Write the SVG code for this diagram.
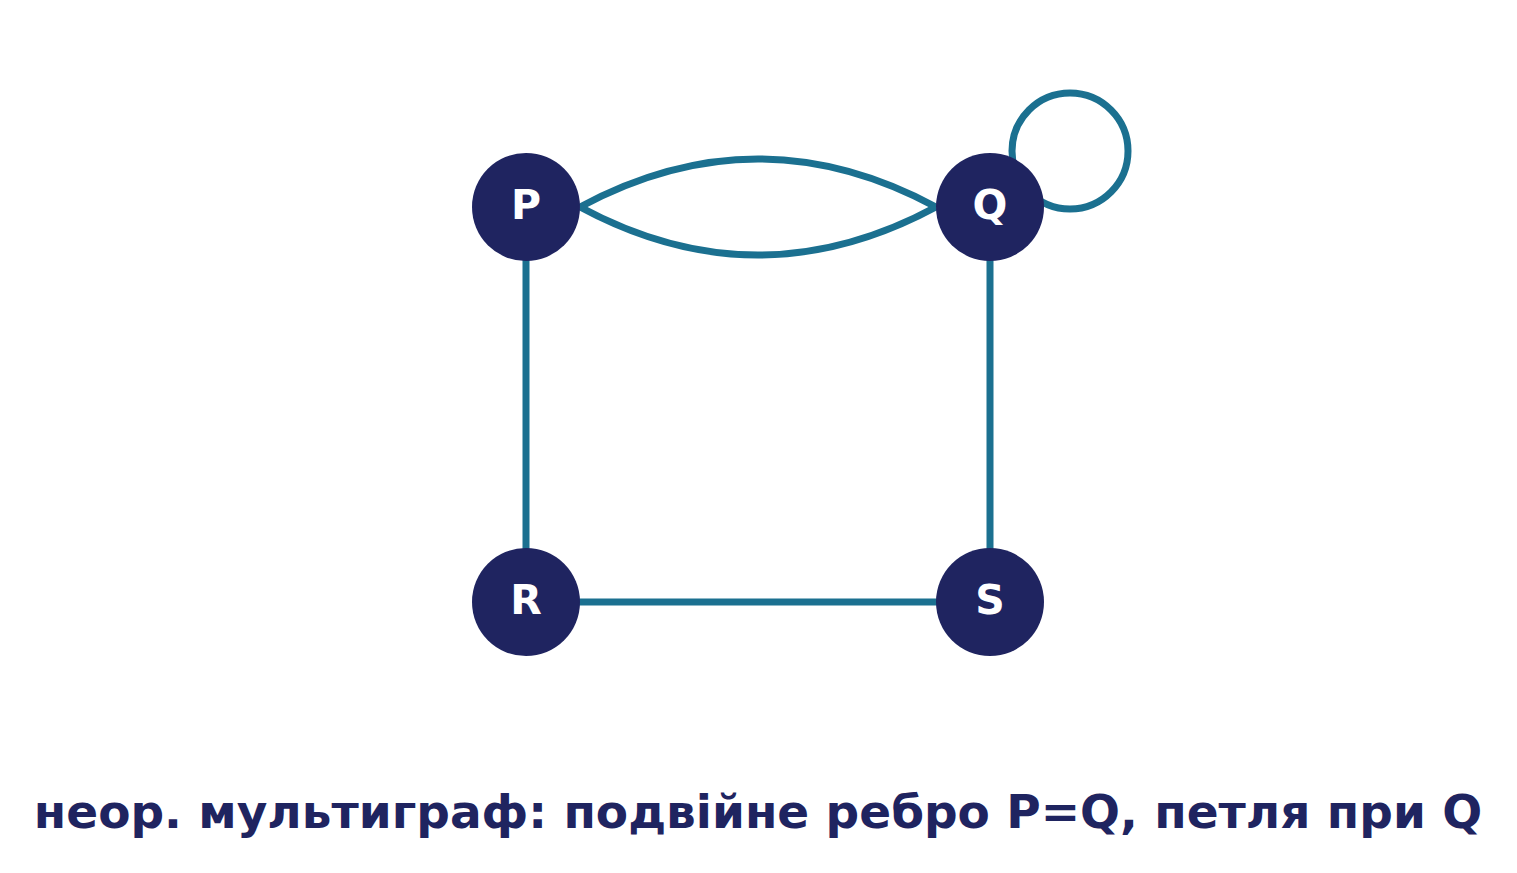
<svg xmlns="http://www.w3.org/2000/svg" width="1517" height="873" viewBox="0 0 1517 873">
<style>
.edge{fill:none;stroke:#1b7090;stroke-width:7}
.node circle{fill:#1f2460}
.node text{fill:#ffffff;font-family:"DejaVu Sans",sans-serif;font-weight:bold;font-size:41px;text-anchor:middle}
.cap{fill:#1f2460;font-family:"DejaVu Sans",sans-serif;font-weight:bold;font-size:47px;text-anchor:middle}
</style>
<rect width="1517" height="873" fill="#ffffff"/>
<g id="edges">
<path class="edge" d="M580,207 Q758,111 936,207"/>
<path class="edge" d="M580,207 Q758,303 936,207"/>
<line class="edge" x1="526" y1="207" x2="526" y2="602"/>
<line class="edge" x1="990" y1="207" x2="990" y2="602"/>
<line class="edge" x1="526" y1="602" x2="990" y2="602"/>
<circle class="edge" cx="1070" cy="151" r="58"/>
</g>
<g id="node-P" class="node"><circle cx="526" cy="207" r="54"/><text x="526" y="219">P</text></g>
<g id="node-Q" class="node"><circle cx="990" cy="207" r="54"/><text x="990" y="219">Q</text></g>
<g id="node-R" class="node"><circle cx="526" cy="602" r="54"/><text x="526" y="614">R</text></g>
<g id="node-S" class="node"><circle cx="990" cy="602" r="54"/><text x="990" y="614">S</text></g>
<text class="cap" x="758" y="828">неор. мультиграф: подвійне ребро P=Q, петля при Q</text>
</svg>
